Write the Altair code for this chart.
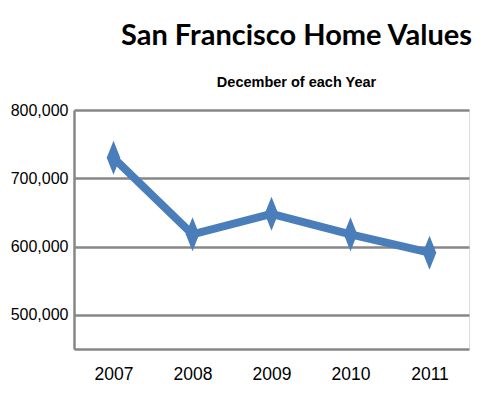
import altair as alt
import pandas as pd

years = ["2007", "2008", "2009", "2010", "2011"]
values = [730000, 618000, 648000, 618000, 591000]
y_ticks = [500000, 600000, 700000, 800000]

df = pd.DataFrame({"Year": years, "Value": values})

LABEL_FONT = "Liberation Sans, Arial, sans-serif"
TITLE_FONT = "Lato, Liberation Sans, sans-serif"
BLUE = "#4A7EBB"
GRID = "#878787"

x_enc = alt.X("Year:N", sort=years, title=None,
              scale=alt.Scale(type="point", padding=0.5),
              axis=alt.Axis(labelAngle=0, labelFont=LABEL_FONT, labelFontSize=17.5,
                            labelColor="black", labelPadding=16, ticks=False,
                            domainColor=GRID, domainWidth=2.5, grid=False))
y_enc = alt.Y("Value:Q", title=None,
              scale=alt.Scale(domain=[450000, 800000], nice=False, zero=False),
              axis=alt.Axis(values=y_ticks, format=",d", labelFont=LABEL_FONT,
                            labelFontSize=16, labelColor="black", labelPadding=6,
                            ticks=False, domainColor=GRID, domainWidth=2.5,
                            gridColor=GRID, gridWidth=2.5, gridOpacity=1))

line = alt.Chart(df).mark_line(color=BLUE, strokeWidth=8).encode(x=x_enc, y=y_enc)
pts = alt.Chart(df).mark_point(
    filled=True, color=BLUE, opacity=1,
    shape="M0,-1L0.4,0L0,1L-0.4,0Z", size=1150,
).encode(x=x_enc, y=y_enc)

chart = (line + pts).properties(
    width=395, height=239,
    title=alt.TitleParams(
        "San Francisco Home Values",
        subtitle="December of each Year",
        anchor="middle", dx=25, offset=13,
        font=TITLE_FONT, fontSize=29, fontWeight="bold", color="black",
        subtitleFont="Liberation Sans, Arial, sans-serif", subtitleFontSize=14.5,
        subtitleFontWeight="bold", subtitleColor="black", subtitlePadding=25,
    ),
    autosize=alt.AutoSizeParams(type="none"),
    padding={"left": 66, "top": 102, "right": 13, "bottom": 38},
).configure_view(stroke=None).configure(background="white")

chart.save("out.html", embed_options={"renderer": "svg", "actions": False})
